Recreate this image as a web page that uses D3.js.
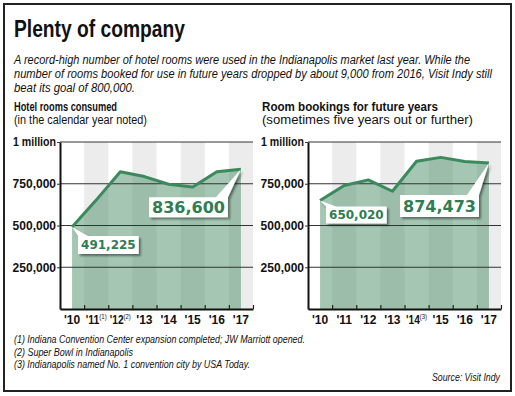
<!DOCTYPE html>
<html>
<head>
<meta charset="utf-8">
<script src="https://cdn.jsdelivr.net/npm/d3@7"></script>
<style>
  body { margin: 0; background: #fff; }
  svg { display: block; }
</style>
</head>
<body>
<div id="container"></div>
<script>
/* DATA */
const years = ["'10", "'11", "'12", "'13", "'14", "'15", "'16", "'17"];
const notesConsumed = ["", "(1)", "(2)", "", "", "", "", ""];
const notesBookings = ["", "", "", "", "(3)", "", "", ""];
const roomsConsumed = [491225, 652000, 822000, 793000, 747000, 730000, 822000, 836600];
const futureBookings = [650020, 740000, 773000, 705000, 885000, 908000, 883500, 874473];
const yTicks = [250000, 500000, 750000, 1000000];

const titleText = "Plenty of company";
const subtitleLines = [
  "A record-high number of hotel rooms were used in the Indianapolis market last year. While the",
  "number of rooms booked for use in future years dropped by about 9,000 from 2016, Visit Indy still",
  "beat its goal of 800,000."
];
const footnotes = [
  "(1) Indiana Convention Center expansion completed; JW Marriott opened.",
  "(2) Super Bowl in Indianapolis",
  "(3) Indianapolis named No. 1 convention city by USA Today."
];
const sourceText = "Source: Visit Indy";

/* CONSTANTS */
const width = 515, height = 396;
const FONT = "'Liberation Sans',Arial,sans-serif";
const CALLOUT = "'DejaVu Sans',sans-serif";
const green = "#3a8a5c", textGreen = "#2f7d52";

const svg = d3.select("#container")
  .append("svg")
  .attr("width", width)
  .attr("height", height)
  .attr("font-family", FONT);

// squeeze a text to the width it has in the print layout
function fit(sel, w) {
  return sel.attr("textLength", w).attr("lengthAdjust", "spacingAndGlyphs");
}

// drop shadow for callouts
svg.append("defs").append("filter")
  .attr("id", "shadow")
  .attr("x", "-20%").attr("y", "-30%")
  .attr("width", "150%").attr("height", "170%")
  .append("feDropShadow")
  .attr("dx", 2).attr("dy", 2)
  .attr("stdDeviation", 1.3)
  .attr("flood-color", "#000")
  .attr("flood-opacity", 0.45);

// outer frame
svg.append("rect")
  .attr("x", 4).attr("y", 4)
  .attr("width", 507).attr("height", 387)
  .attr("fill", "none")
  .attr("stroke", "#222")
  .attr("stroke-width", 2);

// title + intro
fit(svg.append("text")
  .attr("x", 14).attr("y", 37)
  .attr("font-weight", "bold")
  .attr("font-size", 23)
  .attr("fill", "#111")
  .text(titleText), 171);

const subWidths = [456, 478, 121];
subtitleLines.forEach((line, i) => {
  fit(svg.append("text")
    .attr("x", 14).attr("y", 64 + i * 14)
    .attr("font-style", "italic")
    .attr("font-size", 12.5)
    .attr("fill", "#111")
    .text(line), subWidths[i]);
});

// footnotes + source
const footWidths = [291, 119, 236];
footnotes.forEach((line, i) => {
  fit(svg.append("text")
    .attr("x", 14).attr("y", 343 + i * 12.5)
    .attr("font-style", "italic")
    .attr("font-size", 11)
    .attr("fill", "#111")
    .text(line), footWidths[i]);
});
fit(svg.append("text")
  .attr("x", 432).attr("y", 381)
  .attr("font-style", "italic")
  .attr("font-size", 11)
  .attr("fill", "#111")
  .text(sourceText), 68);

// shared y scale
const yScale = d3.scaleLinear()
  .domain([0, 1000000])
  .range([309, 142]);

const panels = [
  {
    x0: 60, x1: 253, labelX: 14,
    head: "Hotel rooms consumed", headW: 103,
    sub: "(in the calendar year noted)", subW: 133,
    values: roomsConsumed, notes: notesConsumed,
    callouts: [
      { i: 0, size: 12, h: 18, dx: 6, dy: 9, side: "left" },
      { i: 7, size: 16, h: 20, dx: -13, dy: 28, side: "right" }
    ]
  },
  {
    x0: 308, x1: 501, labelX: 262,
    head: "Room bookings for future years", headW: 176,
    sub: "(sometimes five years out or further)", subW: 211,
    values: futureBookings, notes: notesBookings,
    callouts: [
      { i: 0, size: 12, h: 17, dx: 6, dy: 6, side: "left" },
      { i: 7, size: 16, h: 22, dx: -10, dy: 32, side: "right" }
    ]
  }
];

panels.forEach(p => {
  const g = svg.append("g");

  // headings
  fit(g.append("text")
    .attr("x", p.labelX).attr("y", 111)
    .attr("font-weight", "bold")
    .attr("font-size", 12.5)
    .attr("fill", "#111")
    .text(p.head), p.headW);
  fit(g.append("text")
    .attr("x", p.labelX).attr("y", 124)
    .attr("font-size", 12.5)
    .attr("fill", "#111")
    .text(p.sub), p.subW);

  // SCALES
  const xBand = d3.scaleBand()
    .domain(years)
    .range([p.x0, p.x1]);
  const xMid = d => xBand(d) + xBand.bandwidth() / 2;

  // alternating column stripes
  g.selectAll(".stripe")
    .data(years.filter((d, i) => i % 2 === 1))
    .join("rect")
    .attr("class", "stripe")
    .attr("x", d => xBand(d))
    .attr("y", yScale(1000000))
    .attr("width", xBand.bandwidth())
    .attr("height", yScale(0) - yScale(1000000))
    .attr("fill", "#ececec");

  const series = years.map((yr, i) => ({ yr, v: p.values[i] }));

  // AREA
  g.append("path")
    .datum(series)
    .attr("fill", "#4a8e68")
    .attr("fill-opacity", 0.5)
    .attr("d", d3.area()
      .x(d => xMid(d.yr))
      .y0(yScale(0))
      .y1(d => yScale(d.v)));

  // gridlines
  g.selectAll(".grid")
    .data(yTicks)
    .join("line")
    .attr("class", "grid")
    .attr("x1", p.x0).attr("x2", p.x1)
    .attr("y1", d => yScale(d)).attr("y2", d => yScale(d))
    .attr("stroke", "#333")
    .attr("stroke-width", 1);

  // LINE
  g.append("path")
    .datum(series)
    .attr("fill", "none")
    .attr("stroke", green)
    .attr("stroke-width", 3)
    .attr("stroke-linejoin", "round")
    .attr("d", d3.line()
      .x(d => xMid(d.yr))
      .y(d => yScale(d.v)));

  // AXES
  const yAxis = d3.axisLeft(yScale)
    .tickValues(yTicks)
    .tickSize(3)
    .tickSizeOuter(0)
    .tickPadding(1)
    .tickFormat(d => d === 1000000 ? "1 million" : d3.format(",")(d));
  const ya = g.append("g")
    .attr("transform", `translate(${p.x0},0)`)
    .call(yAxis);
  ya.select(".domain").attr("stroke", "#111").attr("stroke-width", 2);
  ya.selectAll(".tick line").attr("stroke", "#333");
  ya.selectAll(".tick text")
    .attr("font-family", FONT)
    .attr("font-weight", "bold")
    .attr("font-size", 12)
    .attr("fill", "#111")
    .filter(d => d === 1000000)
    .attr("textLength", 43)
    .attr("lengthAdjust", "spacingAndGlyphs");

  // tick marks on band edges
  const edgeScale = d3.scaleLinear().domain([0, years.length]).range([p.x0, p.x1]);
  const xTicks = g.append("g")
    .attr("transform", `translate(0,${yScale(0)})`)
    .call(d3.axisBottom(edgeScale).ticks(years.length).tickSize(-4).tickSizeOuter(0).tickFormat(""));
  xTicks.select(".domain").attr("stroke", "#111").attr("stroke-width", 2);
  xTicks.selectAll(".tick line").attr("stroke", "#222").attr("stroke-width", 1.2);

  // year labels
  const xa = g.append("g")
    .attr("transform", `translate(0,${yScale(0)})`)
    .call(d3.axisBottom(xBand).tickSize(0).tickPadding(6));
  xa.select(".domain").remove();
  xa.selectAll(".tick text")
    .attr("font-family", FONT)
    .attr("font-weight", "bold")
    .attr("font-size", 12)
    .attr("fill", "#111")
    .each(function(d, i) {
      const note = p.notes[i];
      if (note) {
        const t = d3.select(this);
        t.attr("textLength", 21).attr("lengthAdjust", "spacingAndGlyphs");
        t.append("tspan")
          .attr("font-size", 7)
          .attr("font-weight", "normal")
          .attr("dy", -5)
          .text(note);
      }
    });

  // CALLOUTS
  p.callouts.forEach(c => {
    const px = xMid(years[c.i]), py = yScale(p.values[c.i]);
    const cg = g.append("g");
    const txt = cg.append("text")
      .attr("font-family", CALLOUT)
      .attr("font-weight", "bold")
      .attr("font-size", c.size)
      .attr("fill", textGreen)
      .attr("text-anchor", "middle")
      .text(d3.format(",")(p.values[c.i]));
    const tw = txt.node().getComputedTextLength();
    const bw = tw + 6;
    const top = py + c.dy, bottom = top + c.h;
    let left, right, shape;
    if (c.side === "left") {
      left = px + c.dx; right = left + bw;
      shape = [[px, py], [left + 10, top], [right, top], [right, bottom], [left, bottom], [left, top]];
    } else {
      right = px + c.dx; left = right - bw;
      shape = [[left, top], [right - 12, top], [px, py], [right, top], [right, bottom], [left, bottom]];
    }
    cg.insert("path", "text")
      .attr("d", d3.line()(shape) + "Z")
      .attr("fill", "#fff")
      .attr("filter", "url(#shadow)");
    txt.attr("x", (left + right) / 2)
      .attr("y", top + c.h / 2)
      .attr("dy", "0.36em");
  });
});
</script>
</body>
</html>
